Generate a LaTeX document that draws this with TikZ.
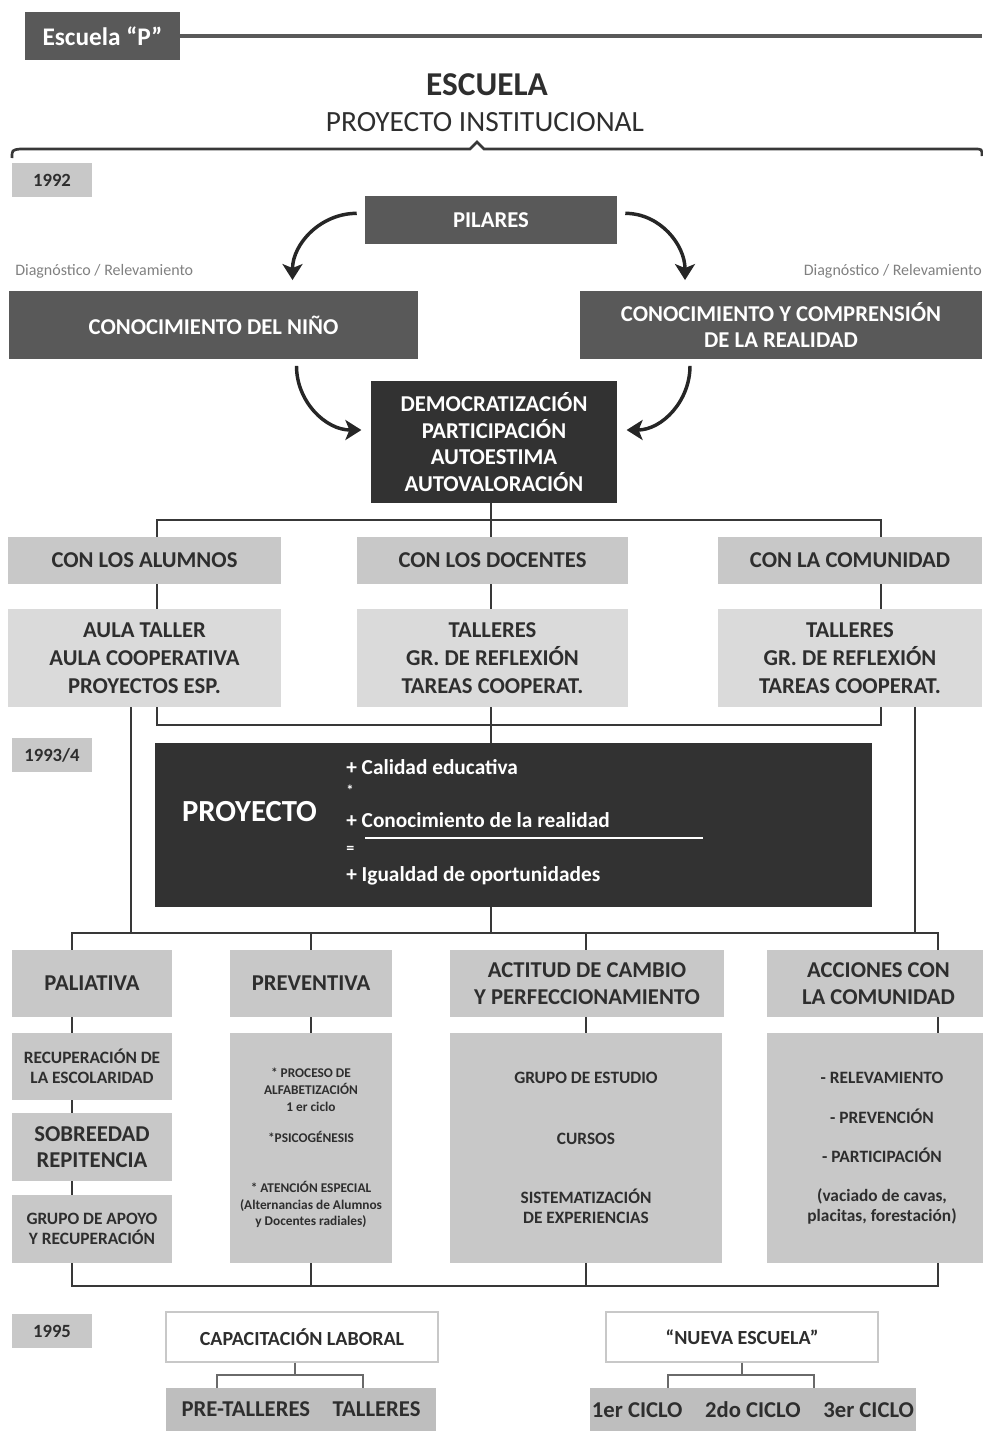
\documentclass[tikz,border=0pt]{standalone}
\usepackage{fontspec}
\setmainfont{Carlito}
\usepackage{tikz}
\usetikzlibrary{arrows.meta}

\definecolor{grisosc}{HTML}{595959}
\definecolor{grisneg}{HTML}{323232}
\definecolor{grismed}{HTML}{C8C8C8}
\definecolor{grisclaro}{HTML}{DADADA}
\definecolor{grisfondo}{HTML}{BEBEBE}
\definecolor{textgris}{HTML}{2E2E2E}
\definecolor{linea}{HTML}{383838}

\tikzset{
  sz/.style 2 args={minimum width=#1*0.75pt, minimum height=#2*0.75pt},
  darkbox/.style={fill=grisosc, text=white, font=\bfseries\fontsize{17}{20}\selectfont, align=center, inner sep=0pt},
  blackbox/.style={darkbox, fill=grisneg},
  headbox/.style={fill=grismed, text=textgris, font=\bfseries\fontsize{17}{20}\selectfont, align=center, inner sep=0pt},
  itembox/.style={headbox, fill=grisclaro, font=\bfseries\fontsize{17}{21}\selectfont},
  smallbox/.style={headbox, font=\bfseries\fontsize{13}{15}\selectfont},
  yearbox/.style={fill=grismed, text=textgris, font=\bfseries\fontsize{14}{16}\selectfont, inner sep=0pt},
  whitebox/.style={draw=grismed, line width=1pt, fill=white, text=textgris, font=\bfseries\fontsize{15}{17}\selectfont, inner sep=0pt},
  conn/.style={draw=linea, line width=2.2pt},
  thinconn/.style={draw=linea!75, line width=1.4pt},
  curvy/.style={draw=black!85, line width=2.6pt, -{Stealth[length=12pt,width=15pt,inset=3pt]}},
  diag/.style={text=gray, font=\fontsize{12}{14}\selectfont, inner sep=0pt},
  formula/.style={text=white, font=\bfseries\fontsize{16}{18}\selectfont, inner sep=0pt, anchor=west}
}

\begin{document}
\begin{tikzpicture}[x=0.75pt,y=-0.75pt]
  \useasboundingbox (0,0) rectangle (982,1431);
   % columns and buses
   \coordinate (edge) at (982,0);
   \coordinate (xA) at (157,0);
   \coordinate (xM) at (491,0);
   \coordinate (xC) at (881,0);
   \coordinate (xL) at (131,0);
   \coordinate (xR) at (915,0);
   \coordinate (x1) at (72,0);
   \coordinate (x2) at (311,0);
   \coordinate (x3) at (586,0);
   \coordinate (x4) at (938,0);
   \coordinate (bus1) at (0,520);
   \coordinate (bus2) at (0,725);
   \coordinate (bus3) at (0,933);
   \coordinate (bus4) at (0,1286);
   \coordinate (bL) at (0,1375);
   \coordinate (xP1) at (217,0);
   \coordinate (xP2) at (363,0);
   \coordinate (xN1) at (668,0);
   \coordinate (xN2) at (814,0);

  % header
  \node[darkbox,sz={155}{48},font=\bfseries\fontsize{19}{21}\selectfont] (escp) at (102.5,36) {Escuela “P”};
  \draw[draw=grisosc,line width=2.4pt] (escp.east) -- (escp.east -| edge);
  \node[text=textgris,font=\bfseries\fontsize{25}{28}\selectfont,inner sep=0pt] (titulo) at (487,85) {ESCUELA};
  \node[text=textgris,font=\fontsize{22}{24}\selectfont,inner sep=0pt] (subtitulo) at (485,122) {PROYECTO INSTITUCIONAL};
  \draw[draw=linea,line width=2pt] (12,158) .. controls (12,150) .. (20,149) -- (470,149) -- (477,142)
      -- (484,149) -- (974,149) .. controls (982,149) .. (982,156);

  % 1992
  \node[yearbox,sz={80}{34}] (y92) at (52,180) {1992};
  \node[darkbox,sz={252}{48}] (pilares) at (491,220) {PILARES};
  \node[diag,anchor=west] (diagL) at (15,271) {Diagnóstico / Relevamiento};
  \node[diag,anchor=east] (diagR) at (982,271) {Diagnóstico / Relevamiento};
  \node[darkbox,sz={409}{68}] (nino) at (213.5,325) {CONOCIMIENTO DEL NIÑO};
  \node[darkbox,sz={402}{68}] (realidad) at (781,325) {CONOCIMIENTO Y COMPRENSIÓN\\DE LA REALIDAD};
  \node[blackbox,sz={246}{122}] (demo) at (494,442) {DEMOCRATIZACIÓN\\PARTICIPACIÓN\\AUTOESTIMA\\AUTOVALORACIÓN};

  \draw[curvy] ([xshift=-6pt,yshift=5pt]pilares.west) to[out=180,in=90] ([xshift=79*0.75pt,yshift=8pt]nino.north);
  \draw[curvy] ([xshift=6pt,yshift=5pt]pilares.east) to[out=0,in=90] ([xshift=-96*0.75pt,yshift=8pt]realidad.north);
  \draw[curvy] ([xshift=83*0.75pt,yshift=-5pt]nino.south) to[out=-90,in=180] ([xshift=-7pt,yshift=9pt]demo.west);
  \draw[curvy] ([xshift=-91*0.75pt,yshift=-5pt]realidad.south) to[out=-90,in=0] ([xshift=7pt,yshift=9pt]demo.east);

  \node[headbox,sz={273}{47}] (alumnos) at (144.5,560.5) {CON LOS ALUMNOS};
  \node[headbox,sz={271}{47}] (docentes) at (492.5,560.5) {CON LOS DOCENTES};
  \node[headbox,sz={264}{47}] (comunidad) at (850,560.5) {CON LA COMUNIDAD};
  \node[itembox,sz={273}{98}] (aula) at (144.5,658) {AULA TALLER\\AULA COOPERATIVA\\PROYECTOS ESP.};
  \node[itembox,sz={271}{98}] (tallD) at (492.5,658) {TALLERES\\GR. DE REFLEXIÓN\\TAREAS COOPERAT.};
  \node[itembox,sz={264}{98}] (tallC) at (850,658) {TALLERES\\GR. DE REFLEXIÓN\\TAREAS COOPERAT.};

  \draw[conn] (demo.south -| xM) -- (xM |- docentes.north);
  \draw[conn] (xA |- alumnos.north) |- (xC |- bus1) -- (xC |- comunidad.north);
  \foreach \c/\a/\b in {xA/alumnos/aula, xM/docentes/tallD, xC/comunidad/tallC}
    \draw[conn] (\c |- \a.south) -- (\c |- \b.north);

  % 1993/4
  \node[yearbox,sz={80}{34}] (y93) at (52,755) {1993/4};
  \node[blackbox,sz={717}{164}] (proyecto) at (513.5,825) {};
  \node[text=white,font=\bfseries\fontsize{23}{25}\selectfont,inner sep=0pt] (proytit) at (249.5,812) {PROYECTO};
  \node[formula] (calidad) at (346,767) {+ Calidad educativa};
  \node[formula,font=\bfseries\fontsize{11}{12}\selectfont] (por) at (346,790) {*};
  \node[formula] (conoc) at (346,820) {+ Conocimiento de la realidad};
  \node[formula,font=\bfseries\fontsize{12}{12}\selectfont] (igual) at (346,850) {=};
  \node[formula] (igualdad) at (346,876) {+ Igualdad de oportunidades};
  \coordinate (ulA) at (365,838);
  \coordinate (ulB) at (703,838);
  \draw[white,line width=2pt] (ulA) -- (ulB);

  \draw[conn] (xA |- aula.south) |- (xC |- bus2) -- (xC |- tallC.south);
  \draw[conn] (xM |- tallD.south) -- (xM |- proyecto.north);
  \draw[conn] (xL |- aula.south) -- (xL |- bus3);
  \draw[conn] (xR |- tallC.south) -- (xR |- bus3);
  \draw[conn] (xM |- proyecto.south) -- (xM |- bus3);

  % lower block
  \node[headbox,sz={160}{67}] (paliativa) at (92,983.5) {PALIATIVA};
  \node[headbox,sz={162}{67}] (preventiva) at (311,983.5) {PREVENTIVA};
  \node[headbox,sz={274}{67}] (actitud) at (587,983.5) {ACTITUD DE CAMBIO\\Y PERFECCIONAMIENTO};
  \node[headbox,sz={223}{67}] (acciones) at (878.5,983.5) {ACCIONES CON\\LA COMUNIDAD};
  \node[smallbox,sz={160}{67}] (recup) at (92,1066.5) {RECUPERACIÓN DE\\LA ESCOLARIDAD};
  \node[headbox,sz={160}{68}] (sobre) at (92,1147) {SOBREEDAD\\REPITENCIA};
  \node[smallbox,sz={160}{68}] (apoyo) at (92,1229) {GRUPO DE APOYO\\Y RECUPERACIÓN};
  \node[headbox,sz={162}{230},font=\bfseries\fontsize{10}{12.5}\selectfont] (prevlist) at (311,1148)
     {* PROCESO DE\\ALFABETIZACIÓN\\1 er ciclo\\[11pt]*PSICOGÉNESIS\\[25pt]* ATENCIÓN ESPECIAL\\(Alternancias de Alumnos\\y Docentes radiales)};
  \node[smallbox,sz={272}{230}] (actlist) at (586,1148)
     {GRUPO DE ESTUDIO\\[31pt]CURSOS\\[29pt]SISTEMATIZACIÓN\\DE EXPERIENCIAS};
  \node[smallbox,sz={230}{230}] (acclist) at (882,1148)
     {- RELEVAMIENTO\\[15pt]- PREVENCIÓN\\[14pt]- PARTICIPACIÓN\\[14pt](vaciado de cavas,\\placitas, forestación)};

  \draw[conn] (x1 |- paliativa.north) |- (x4 |- bus3) -- (x4 |- acciones.north);
  \draw[conn] (x2 |- bus3) -- (x2 |- preventiva.north);
  \draw[conn] (x3 |- bus3) -- (x3 |- actitud.north);
  \foreach \c/\a/\b in {x1/paliativa/recup, x1/recup/sobre, x1/sobre/apoyo, x2/preventiva/prevlist, x3/actitud/actlist, x4/acciones/acclist}
    \draw[conn] (\c |- \a.south) -- (\c |- \b.north);
  \draw[conn] (x1 |- apoyo.south) |- (x4 |- bus4) -- (x4 |- acclist.south);
  \draw[conn] (x2 |- prevlist.south) -- (x2 |- bus4);
  \draw[conn] (x3 |- actlist.south) -- (x3 |- bus4);

  % 1995
  \node[yearbox,sz={80}{34}] (y95) at (52,1331) {1995};
  \node[whitebox,sz={272}{50}] (capac) at (302,1337) {CAPACITACIÓN LABORAL};
  \node[headbox,fill=grisfondo,sz={270}{43}] (pret) at (301,1409.5) {PRE-TALLERES\quad TALLERES};
  \node[whitebox,sz={272}{50}] (nueva) at (742,1337) {“NUEVA ESCUELA”};
  \node[headbox,fill=grisfondo,sz={326}{43}] (ciclos) at (753,1409.5) {1er CICLO\quad 2do CICLO\quad 3er CICLO};

  \draw[thinconn] ([xshift=-5pt]capac.south) -- ([xshift=-5pt]capac.south |- bL);
  \draw[thinconn] (xP1 |- pret.north) |- (xP2 |- bL) -- (xP2 |- pret.north);
  \draw[thinconn] (nueva.south) -- (nueva.south |- bL);
  \draw[thinconn] (xN1 |- ciclos.north) |- (xN2 |- bL) -- (xN2 |- ciclos.north);
 \end{tikzpicture}
\end{document}
